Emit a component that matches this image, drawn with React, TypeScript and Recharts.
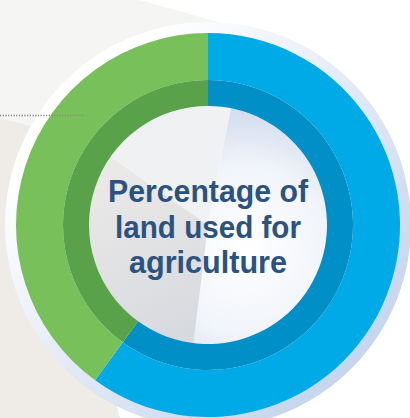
import React from "react";
import { PieChart, Pie, Cell } from "recharts";

// Data
const categories = ["Other land", "Agricultural land"];
const shares = [60, 40];
const outerColors = ["#00aae6", "#78c15a"];
const innerColors = ["#008fc6", "#59a24a"];
const titleLines = ["Percentage of", "land used for", "agriculture"];

// Decorative facets of the centre disc (degrees of arc)
const facetNames = ["light", "lower", "upper"];
const facetSpans = [176, 118, 66];
const facetFills = ["url(#facetLight)", "url(#facetLower)", "url(#facetUpper)"];

const data = categories.map((name, i) => ({ name, value: shares[i] }));
const facets = facetNames.map((name, i) => ({ name, value: facetSpans[i] }));
const single = [{ name: "disc", value: 1 }];

const CX = 208;
const CY = 225;

export default function App() {
  return (
    <div style={{ position: "absolute", left: 0, top: 0, width: 410, height: 418, overflow: "hidden", background: "#ffffff" }}>
      <svg width={410} height={418} style={{ position: "absolute", left: 0, top: 0 }}>
        <defs>
          <linearGradient id="halo" x1="0" y1="0" x2="1" y2="1" gradientUnits="objectBoundingBox">
            <stop offset="0.2" stopColor="#ffffff" />
            <stop offset="0.5" stopColor="#e3eaf6" />
            <stop offset="1" stopColor="#b9cde9" />
          </linearGradient>
          <radialGradient id="facetLight" cx="245" cy="250" r="140" gradientUnits="userSpaceOnUse">
            <stop offset="0" stopColor="#ffffff" />
            <stop offset="0.6" stopColor="#f1f4fa" />
            <stop offset="1" stopColor="#d2ddee" />
          </radialGradient>
          <linearGradient id="facetLower" x1="110" y1="160" x2="200" y2="345" gradientUnits="userSpaceOnUse">
            <stop offset="0" stopColor="#eceae8" />
            <stop offset="1" stopColor="#d5d8de" />
          </linearGradient>
          <linearGradient id="facetUpper" x1="120" y1="130" x2="230" y2="200" gradientUnits="userSpaceOnUse">
            <stop offset="0" stopColor="#eef0f2" />
            <stop offset="1" stopColor="#f1f2f4" />
          </linearGradient>
        </defs>
        <polygon points="0,0 140,0 232,26 120,220 0,220" fill="#f5f5f3" />
        <polygon points="0,118 45,130 120,418 0,418" fill="#efece8" />
      </svg>
      <div style={{ position: "absolute", left: 0, top: 0 }}>
        <PieChart width={410} height={418} margin={{ top: 0, right: 0, bottom: 0, left: 0 }}>
          <Pie
            data={single}
            dataKey="value"
            cx={CX}
            cy={CY}
            innerRadius={180}
            outerRadius={203}
            startAngle={90}
            endAngle={-270}
            stroke="none"
            fill="url(#halo)"
            isAnimationActive={false}
          />
          <Pie
            data={facets}
            dataKey="value"
            cx={CX}
            cy={CY}
            innerRadius={0}
            outerRadius={120}
            startAngle={79}
            endAngle={-281}
            stroke="none"
            isAnimationActive={false}
          >
            {facets.map((f, i) => (
              <Cell key={f.name} fill={facetFills[i]} />
            ))}
          </Pie>
          <Pie
            data={data}
            dataKey="value"
            cx={CX}
            cy={CY}
            innerRadius={145}
            outerRadius={192}
            startAngle={90}
            endAngle={-270}
            stroke="none"
            isAnimationActive={false}
          >
            {data.map((d, i) => (
              <Cell key={d.name} fill={outerColors[i]} />
            ))}
          </Pie>
          <Pie
            data={data}
            dataKey="value"
            cx={CX}
            cy={CY}
            innerRadius={119}
            outerRadius={145}
            startAngle={90}
            endAngle={-270}
            stroke="none"
            isAnimationActive={false}
          >
            {data.map((d, i) => (
              <Cell key={d.name} fill={innerColors[i]} />
            ))}
          </Pie>
        </PieChart>
      </div>
      <svg width={410} height={418} style={{ position: "absolute", left: 0, top: 0, pointerEvents: "none" }}>
        <line x1={0} y1={115.5} x2={84} y2={115.5} stroke="#8a8a8a" strokeWidth={1.3} strokeDasharray="1.3 1.4" />
        {titleLines.map((t, i) => (
          <text
            key={t}
            x={CX}
            y={202 + i * 35.5}
            textAnchor="middle"
            fontFamily="'Liberation Sans', Arial, sans-serif"
            fontWeight={700}
            fontSize={31}
            fill="#2c5380"
            textLength={[200, 186, 158][i]}
            lengthAdjust="spacingAndGlyphs"
          >
            {t}
          </text>
        ))}
      </svg>
    </div>
  );
}
